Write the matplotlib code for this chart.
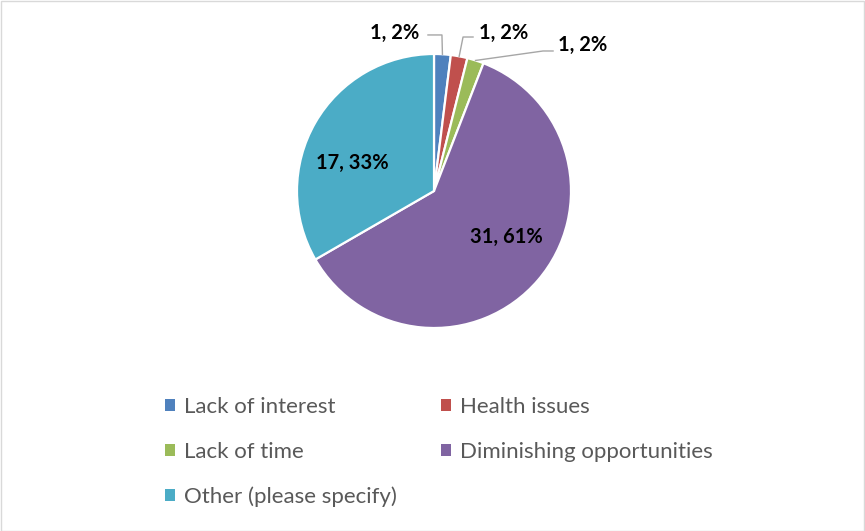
import matplotlib.pyplot as plt
import numpy as np
from matplotlib.patches import Patch, Rectangle

plt.rcParams["font.family"] = ["Lato", "DejaVu Sans"]

categories = [
    "Lack of interest",
    "Health issues",
    "Lack of time",
    "Diminishing opportunities",
    "Other (please specify)",
]
counts = [1, 1, 1, 31, 17]
colors = ["#4F81BD", "#C0504D", "#9BBB59", "#8064A2", "#4BACC6"]

W, H = 865, 531
fig = plt.figure(figsize=(W / 100, H / 100), dpi=100)
fig.patches.append(
    Rectangle((0.5 / W, 0.5 / H), 1 - 1.5 / W, 1 - 1.5 / H, transform=fig.transFigure,
              fill=False, edgecolor="#D9D9D9", linewidth=1)
)

# pie of radius 1 -> 137 px, centred at (434, 191) px from top-left
radius_px = 137
cx, cy = 434, 191
half = 1.2
ax = fig.add_axes([(cx - half * radius_px) / W, 1 - (cy + half * radius_px) / H,
                   2 * half * radius_px / W, 2 * half * radius_px / H])

wedges, _ = ax.pie(counts, colors=colors, startangle=90, counterclock=False, radius=1,
                   wedgeprops=dict(edgecolor="white", linewidth=1.6))
ax.set_xlim(-half, half)
ax.set_ylim(-half, half)
ax.set_aspect("equal")
ax.axis("off")

total = sum(counts)
labels = [f"{v}, {round(100 * v / total)}%" for v in counts]

# outside labels for the small slices: text position and leader elbow points
outside = {
    0: ((-0.285, 1.153), [(-0.044, 1.139), (0.058, 1.139)]),
    1: ((0.511, 1.153), [(0.285, 1.124), (0.212, 1.124)]),
    2: ((1.088, 1.066), [(0.869, 1.022), (0.796, 1.022)]),
}
inside = {3: (0.526, -0.336), 4: (-0.599, 0.204)}

for i, w in enumerate(wedges):
    mid = np.deg2rad((w.theta1 + w.theta2) / 2)
    edge = (np.cos(mid), np.sin(mid))
    if i in outside:
        (tx, ty), elbow = outside[i]
        pts = elbow + [edge]
        ax.plot([p[0] for p in pts], [p[1] for p in pts], color="#A6A6A6", linewidth=1,
                clip_on=False)
        ax.text(tx, ty, labels[i], ha="center", va="center", fontsize=14.5,
                fontweight="bold", color="black")
    else:
        x, y = inside[i]
        ax.text(x, y, labels[i], ha="center", va="center", fontsize=14.5,
                fontweight="bold", color="black")

# legend is filled column-wise, so order entries to read row by row
order = [0, 2, 4, 1, 3]
handles = [Patch(facecolor=colors[i], edgecolor="none") for i in order]
fig.legend(handles, [categories[i] for i in order], ncol=2, frameon=False,
           loc="upper left", bbox_to_anchor=(156 / W, 1 - 388 / H),
           fontsize=16, labelcolor="#595959", handlelength=0.45, handleheight=0.45,
           handletextpad=0.4, labelspacing=1.12, columnspacing=2.0, borderaxespad=0)

fig.savefig("out.png", dpi=100)
